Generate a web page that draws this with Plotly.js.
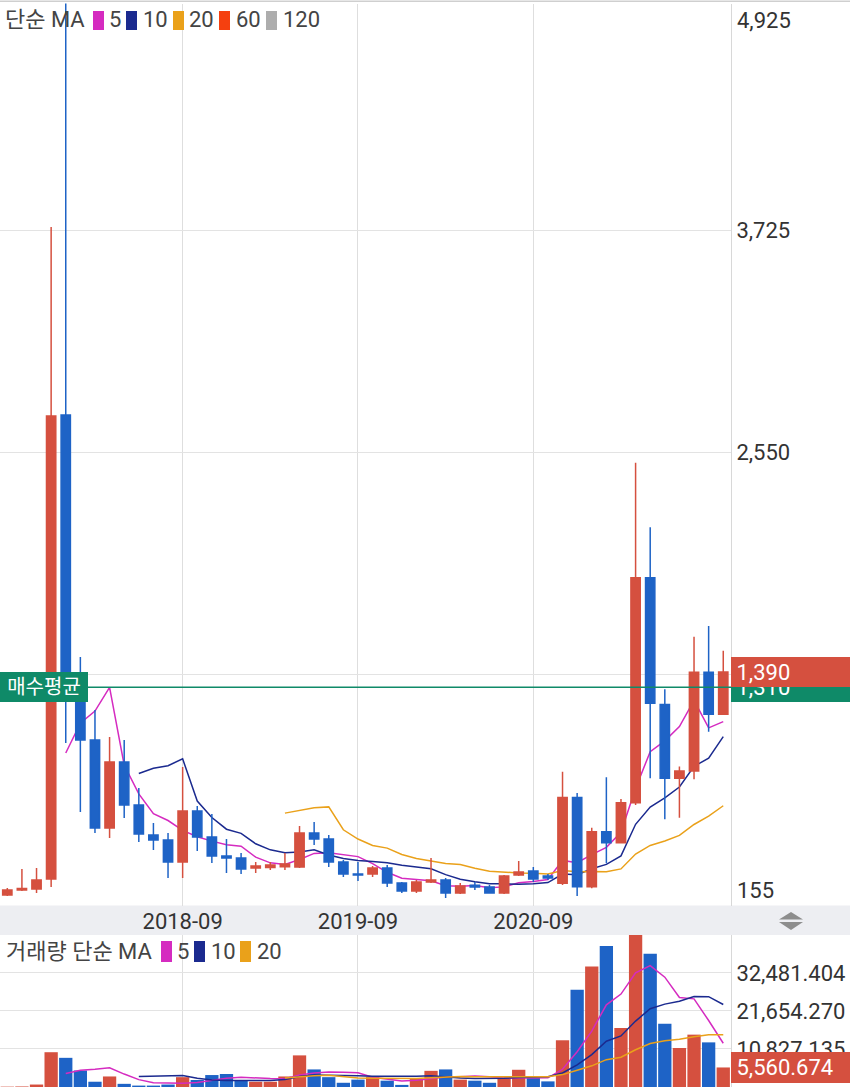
<!DOCTYPE html>
<html><head><meta charset="utf-8">
<script src="https://cdn.plot.ly/plotly-3.0.1.min.js"></script>
<style>html,body{margin:0;padding:0;background:#fff;overflow:hidden}#chart{width:850px;height:1087px}</style>
</head><body><div id="chart"></div>
<script>
// ---------------- DATA ----------------
const months = ['2017-09','2017-10','2017-11','2017-12',
 '2018-01','2018-02','2018-03','2018-04','2018-05','2018-06','2018-07','2018-08','2018-09','2018-10','2018-11','2018-12',
 '2019-01','2019-02','2019-03','2019-04','2019-05','2019-06','2019-07','2019-08','2019-09','2019-10','2019-11','2019-12',
 '2020-01','2020-02','2020-03','2020-04','2020-05','2020-06','2020-07','2020-08','2020-09','2020-10','2020-11','2020-12',
 '2021-01','2021-02','2021-03','2021-04','2021-05','2021-06','2021-07','2021-08','2021-09','2021-10'];
const openP  = [211,238,243,296,2750,1290,1031,565,915,687,
                528,502,386,655,518,417,407,354,356,360,
                359,539,507,386,322,322,354,275,232,280,
                291,222,262,254,222,317,338,312,273,726,
                255,546,488,699,1889,1219,828,867,1389,1167];
const highP  = [248,349,354,3744,5300,1470,1190,1047,1031,777,
                592,539,888,682,640,507,433,386,386,433,
                576,597,528,396,386,365,370,280,291,407,
                301,275,280,264,317,391,359,322,863,751,
                567,834,719,2497,2156,1299,890,1577,1634,1503];
const lowP   = [206,232,222,254,1015,650,539,513,618,491,
                449,301,301,444,380,327,322,327,343,343,
                354,476,359,306,285,306,254,222,222,275,
                195,216,238,219,216,312,280,291,264,206,
                247,379,485,687,828,611,620,823,1075,1167];
const closeP = [238,246,291,2744,1290,1031,565,915,687,534,
                502,386,655,518,417,407,348,365,370,375,
                539,507,386,322,317,354,275,232,280,291,
                222,259,254,222,312,333,296,301,726,255,
                546,488,699,1889,1225,828,867,1389,1167,1390];
// price moving averages as drawn (MA5 from 2018-01, MA10 from 2018-06, MA20 from 2019-04)
const ma5  = [962,1120,1184,1309,898,746,641,605,553,519,496,477,469,411,381,373,399,431,435,426,414,377,331,300,292,286,260,257,261,250,254,276,283,293,394,382,425,463,543,775,969,1026,1102,1240,1095,1128];
const ma10 = [854,881,895,931,708,621,559,537,482,450,434,438,450,423,404,394,388,381,368,359,350,319,294,281,271,270,268,270,277,322,318,350,373,418,585,676,725,782,891,935,1049];
const ma20 = [644,659,672,677,556,507,473,459,425,404,392,378,372,352,337,332,328,326,322,340,334,335,334,349,428,473,497,526,584,628,683];
// volume
const volume = [100,150,700,9900,8300,4700,1500,3000,900,400,
                400,700,2800,2000,3400,3700,2000,1500,1500,3000,
                9000,5000,2800,1200,2100,2800,1800,600,2300,4600,
                5000,2100,1800,1200,2700,4900,2700,1600,13300,27700,
                34300,40100,16800,43500,37900,18000,11100,14900,12700,5560.674];
const vma5  = [3830,4750,5020,5480,3680,2100,1240,1080,1040,1260,1860,2520,2780,2520,2420,2340,3400,4000,4260,4200,4020,2780,2140,1700,1920,2420,2860,2920,3160,2940,2560,2540,2660,2620,5040,10040,15920,23400,26440,32480,34520,31260,25460,25080,18920,12452];
const vma10 = [2965,2995,3050,3260,2470,1980,1880,1930,1780,1840,2100,2960,3390,3390,3310,3180,3090,3070,2980,3060,3220,2820,2530,2430,2430,2490,2700,2790,2890,3990,6300,9230,13030,14530,18760,22280,23590,24430,25760,25700,23486];
const vma20 = [2533,2978,3220,3325,2890,2580,2485,2500,2380,2450,2660,2890,2960,2910,2870,2835,2895,2930,2935,3525,4760,6025,7780,8480,10595,12385,13145,13610,14325,14845,14893];
// axis ticks & labels
const xTickVals = ['2018-09','2019-09','2020-09'];
const priceMin = 155, priceMax = 4925;
const priceTickVals = [3725, 2550, 1375];
const priceTickText = ['3,725', '2,550', ''];
const volTickVals = [10827.135, 21654.270, 32481.404];
const volTickText = ['10,827.135', '21,654.270', '32,481.404'];
const volMax = 43257;
const avgBuy = 1310;
const avgBuyText = '1,310';
const lastPriceText = '1,390';
const lastVolText = '5,560.674';
const maLegendLabels = ['5','10','20','60','120'];
const volLegendLabels = ['5','10','20'];

// ---------------- STYLE ----------------
const RED = '#d5503f', BLUE = '#1e63c6';
const C5 = '#d52bc0', C10 = '#1b2a8f', C20 = '#eaa11a', C60 = '#f5400f', C120 = '#adadad';
const GREEN = '#0f8a68';
const FONT = 'Roboto, "Noto Sans CJK KR", "Noto Sans", sans-serif';
const W = 850, H = 1087, PW = 731;
const mainTop = 3.6, mainBot = 905.6, volTop = 935;
const px = x => x / PW, py = y => 1 - y / H;

const n = months.length;
const volColors = closeP.map((c, i) => c >= openP[i] ? RED : BLUE);

const lineTrace = (xs, ys, color, yaxis) => ({type:'scatter', mode:'lines', x:xs, y:ys, yaxis,
  line:{color, width:1.5}, hoverinfo:'skip', showlegend:false});

const traces = [
  lineTrace(months.slice(n - ma5.length), ma5, C5, 'y'),
  lineTrace(months.slice(n - ma10.length), ma10, C10, 'y'),
  lineTrace(months.slice(n - ma20.length), ma20, C20, 'y'),
  {type:'candlestick', x:months, open:openP, high:highP, low:lowP, close:closeP, yaxis:'y3',
   increasing:{line:{color:RED, width:1.5}, fillcolor:RED},
   decreasing:{line:{color:BLUE, width:1.5}, fillcolor:BLUE},
   whiskerwidth:0, hoverinfo:'skip', showlegend:false},
  {type:'bar', x:months, y:volume, yaxis:'y2', marker:{color:volColors, line:{width:0}},
   hoverinfo:'skip', showlegend:false},
  lineTrace(months.slice(n - vma5.length), vma5, C5, 'y2'),
  lineTrace(months.slice(n - vma10.length), vma10, C10, 'y2'),
  lineTrace(months.slice(n - vma20.length), vma20, C20, 'y2')
];

const ann = [];
const shapes = [];
function txt(text, x, y, size, color){
  ann.push({xref:'paper', yref:'paper', x:px(x), y:py(y), xanchor:'left', yanchor:'middle',
    text, showarrow:false, borderpad:0, borderwidth:0, font:{family:FONT, size, color}});
}
function sq(x0, x1, y0, y1, color){
  shapes.push({type:'rect', xref:'paper', yref:'paper', x0:px(x0), x1:px(x1), y0:py(y1), y1:py(y0),
    fillcolor:color, line:{width:0}});
}
// top legend
txt('단순 MA', 5, 20, 22, '#444');
const legX = [[93,109],[126,143],[173,189],[219,236],[266,283]];
const legC = [C5, C10, C20, C60, C120];
maLegendLabels.forEach((t, i) => { sq(legX[i][0], legX[i][0] + 11, 11, 30, legC[i]); txt(t, legX[i][1], 20, 22, '#444'); });
// volume legend
txt('거래량 단순 MA', 6, 951, 22, '#444');
const vLegX = [[161,177],[194,211],[240,257]];
volLegendLabels.forEach((t, i) => { sq(vLegX[i][0], vLegX[i][0] + 11, 941, 962, legC[i]); txt(t, vLegX[i][1], 951, 22, '#444'); });

// x-axis band, borders, icon
shapes.unshift({type:'rect', xref:'paper', yref:'paper', x0:0, x1:px(W), y0:py(volTop), y1:py(mainBot),
  fillcolor:'#edeef2', line:{width:0}, layer:'below'});
shapes.push({type:'line', xref:'paper', yref:'paper', x0:0, x1:px(W), y0:py(1.2), y1:py(1.2), line:{color:'#cfcfcf', width:1.5}});
shapes.push({type:'line', xref:'paper', yref:'y', x0:0, x1:1, y0:avgBuy, y1:avgBuy, line:{color:GREEN, width:1.5}, layer:'above'});
shapes.push({type:'path', xref:'paper', yref:'paper',
  path:`M ${px(779)},${py(919.5)} L ${px(803)},${py(919.5)} L ${px(791)},${py(912)} Z`, fillcolor:'#8d8d8d', line:{width:0}});
shapes.push({type:'path', xref:'paper', yref:'paper',
  path:`M ${px(779)},${py(922)} L ${px(803)},${py(922)} L ${px(791)},${py(930)} Z`, fillcolor:'#8d8d8d', line:{width:0}});

// right axis extremes
ann.push({xref:'paper', yref:'y', x:1 + 5/PW, y:priceMax, xanchor:'left', yanchor:'top', yshift:-3,
  text:priceMax.toLocaleString('en-US'), showarrow:false, borderpad:0, font:{family:FONT, size:22, color:'#333'}});
ann.push({xref:'paper', yref:'y', x:1 + 5/PW, y:priceMin, xanchor:'left', yanchor:'bottom', yshift:2,
  text:String(priceMin), showarrow:false, borderpad:0, font:{family:FONT, size:22, color:'#333'}});
// boxes
function box(text, x, xanchor, yref, y, w, h, color, size, align){
  ann.push({xref:'paper', yref, x, y, xanchor, yanchor:'middle', text, showarrow:false,
    width:w, height:h, bgcolor:color, borderpad:0, borderwidth:0, align,
    font:{family:FONT, size, color:'#fff'}});
}
box('매수평균', 0, 'left', 'y', avgBuy, 88, 30, GREEN, 20, 'center');
box('\u00a0' + avgBuyText, 1, 'left', 'y', avgBuy, 119, 30, GREEN, 22, 'left');
box('\u00a0' + lastPriceText, 1, 'left', 'y', closeP[n - 1], 119, 30, RED, 22, 'left');
box('\u00a0' + lastVolText, 1, 'left', 'y2', volume[n - 1], 119, 31, RED, 22, 'left');

const gridC = '#e3e3e3';
const layout = {
  width:W, height:H, margin:{l:0, r:W - PW, t:0, b:0, pad:0},
  paper_bgcolor:'#fff', plot_bgcolor:'#fff', showlegend:false,
  boxgap:0.09, bargap:0.09,
  xaxis:{type:'category', categoryorder:'array', categoryarray:months,
    range:[-0.5, 49.53], tickvals:xTickVals, ticktext:xTickVals, showgrid:true, gridcolor:'#dedede',
    ticks:'', showline:false, zeroline:false, anchor:'y', rangeslider:{visible:false}, fixedrange:true,
    tickfont:{family:FONT, size:22, color:'#333'}},
  yaxis:{domain:[1 - mainBot / H, 1 - mainTop / H], range:[priceMin, priceMax], side:'right',
    tickvals:priceTickVals, ticktext:priceTickText, showgrid:true, gridcolor:gridC, zeroline:false,
    showline:true, linecolor:'#d8d8d8', linewidth:1, ticks:'', fixedrange:true,
    tickfont:{family:FONT, size:22, color:'#333'}},
  yaxis3:{overlaying:'y', range:[priceMin, priceMax], visible:false, fixedrange:true},
  yaxis2:{domain:[0, 1 - volTop / H], range:[0, volMax], side:'right', anchor:'x',
    tickvals:volTickVals, ticktext:volTickText, showgrid:true, gridcolor:gridC, zeroline:false,
    showline:true, linecolor:'#d8d8d8', linewidth:1, ticks:'', fixedrange:true,
    tickfont:{family:FONT, size:22, color:'#333'}},
  annotations:ann, shapes:shapes
};
Plotly.newPlot('chart', traces, layout, {staticPlot:true, displayModeBar:false});
</script></body></html>
